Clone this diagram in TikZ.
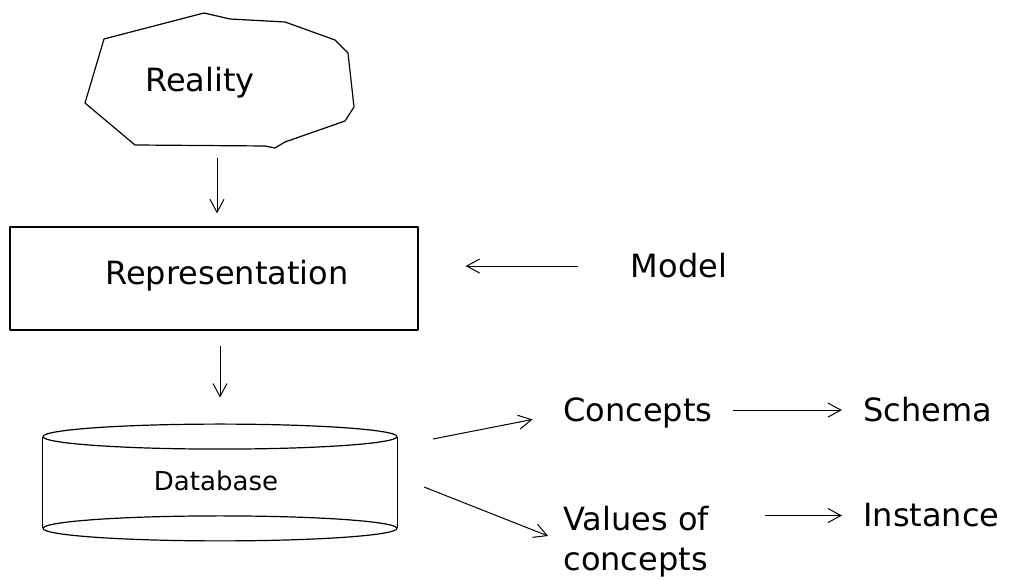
\documentclass[tikz,border=0pt]{standalone}
\usepackage{fontspec}
\setmainfont{DejaVu Sans}
\usetikzlibrary{arrows.meta,calc}
\tikzstyle{arrow} = [line width=0.5pt,->,>={Straight Barb[length=6.5pt,width=7pt]}]
\tikzset{outline/.style={line width=0.6pt, line join=round},
    txt/.style={inner sep=0pt, font=\fontsize{16}{20}\selectfont},
    small txt/.style={inner sep=0pt, font=\fontsize{13}{16}\selectfont},
    box/.style={rectangle, draw, outline, inner sep=0pt, minimum width=204pt, minimum height=51.5pt},
    drum/.style={rectangle, draw=none, inner sep=0pt, minimum width=177pt, minimum height=45.5pt}}

\begin{document}
\begin{tikzpicture}[x=0.5pt, y=-0.5pt]
    \useasboundingbox (0,0) rectangle (1017,581);

    % reality
    \draw [outline] (104,39) -- (204,13) -- (230,19) -- (285,22) -- (335,40) -- (348,53)
        -- (354,107) -- (345,121) -- (285,142) -- (275,148) -- (265,146) -- (135,145)
        -- (85,103) -- cycle;
    \node [txt, anchor=base] (reality) at (200,92) {Reality};
    \coordinate (realbot) at (217,158);

    % representation and model
    \node [box] (rep) at (214,278.5) {};
    \node [txt, anchor=base] (replabel) at (227,285) {Representation};
    \node [txt, anchor=base] (model) at (679,278) {Model};

    % database
    \node [drum] (db) at (220,482.5) {};
    \draw [outline] (db.north) ellipse [x radius=88.5pt, y radius=6.25pt];
    \draw [outline] (db.south) ellipse [x radius=88.5pt, y radius=6.25pt];
    \draw [outline] (db.north west) -- (db.south west);
    \draw [outline] (db.north east) -- (db.south east);
    \node [small txt, anchor=base] (dbtext) at (216,491) {Database};
    \coordinate (dbout1) at (433,439);
    \coordinate (dbout2) at (424,487);

    % right hand side
    \node [txt, anchor=base west] (concepts) at (563,422) {Concepts};
    \node [txt, anchor=base west] (schema) at (863,422) {Schema};
    \node [txt, anchor=north west, align=left] (values) at (563,506) {Values of\\concepts};
    \node [txt, anchor=base west] (instance) at (863,527) {Instance};

    \draw [arrow, shorten >=6.5pt] (realbot) -- (realbot |- rep.north);
    \draw [arrow, shorten <=7.5pt, shorten >=19.5pt] (rep.south -| db.north) -- (db.north);
    \draw [arrow, shorten <=26.5pt, shorten >=23.5pt] (model.west) -- (model.west -| rep.east);
    \draw [arrow, shorten >=15.5pt] (dbout1) -- (concepts.west);
    \draw [arrow, shorten >=8pt] (dbout2) -- (values.west);
    \draw [arrow, shorten <=10pt, shorten >=10.5pt] (concepts.east |- schema.west) -- (schema.west);
    \draw [arrow, shorten <=28pt, shorten >=10.5pt] (instance.west -| values.east) -- (instance.west);
\end{tikzpicture}
\end{document}
